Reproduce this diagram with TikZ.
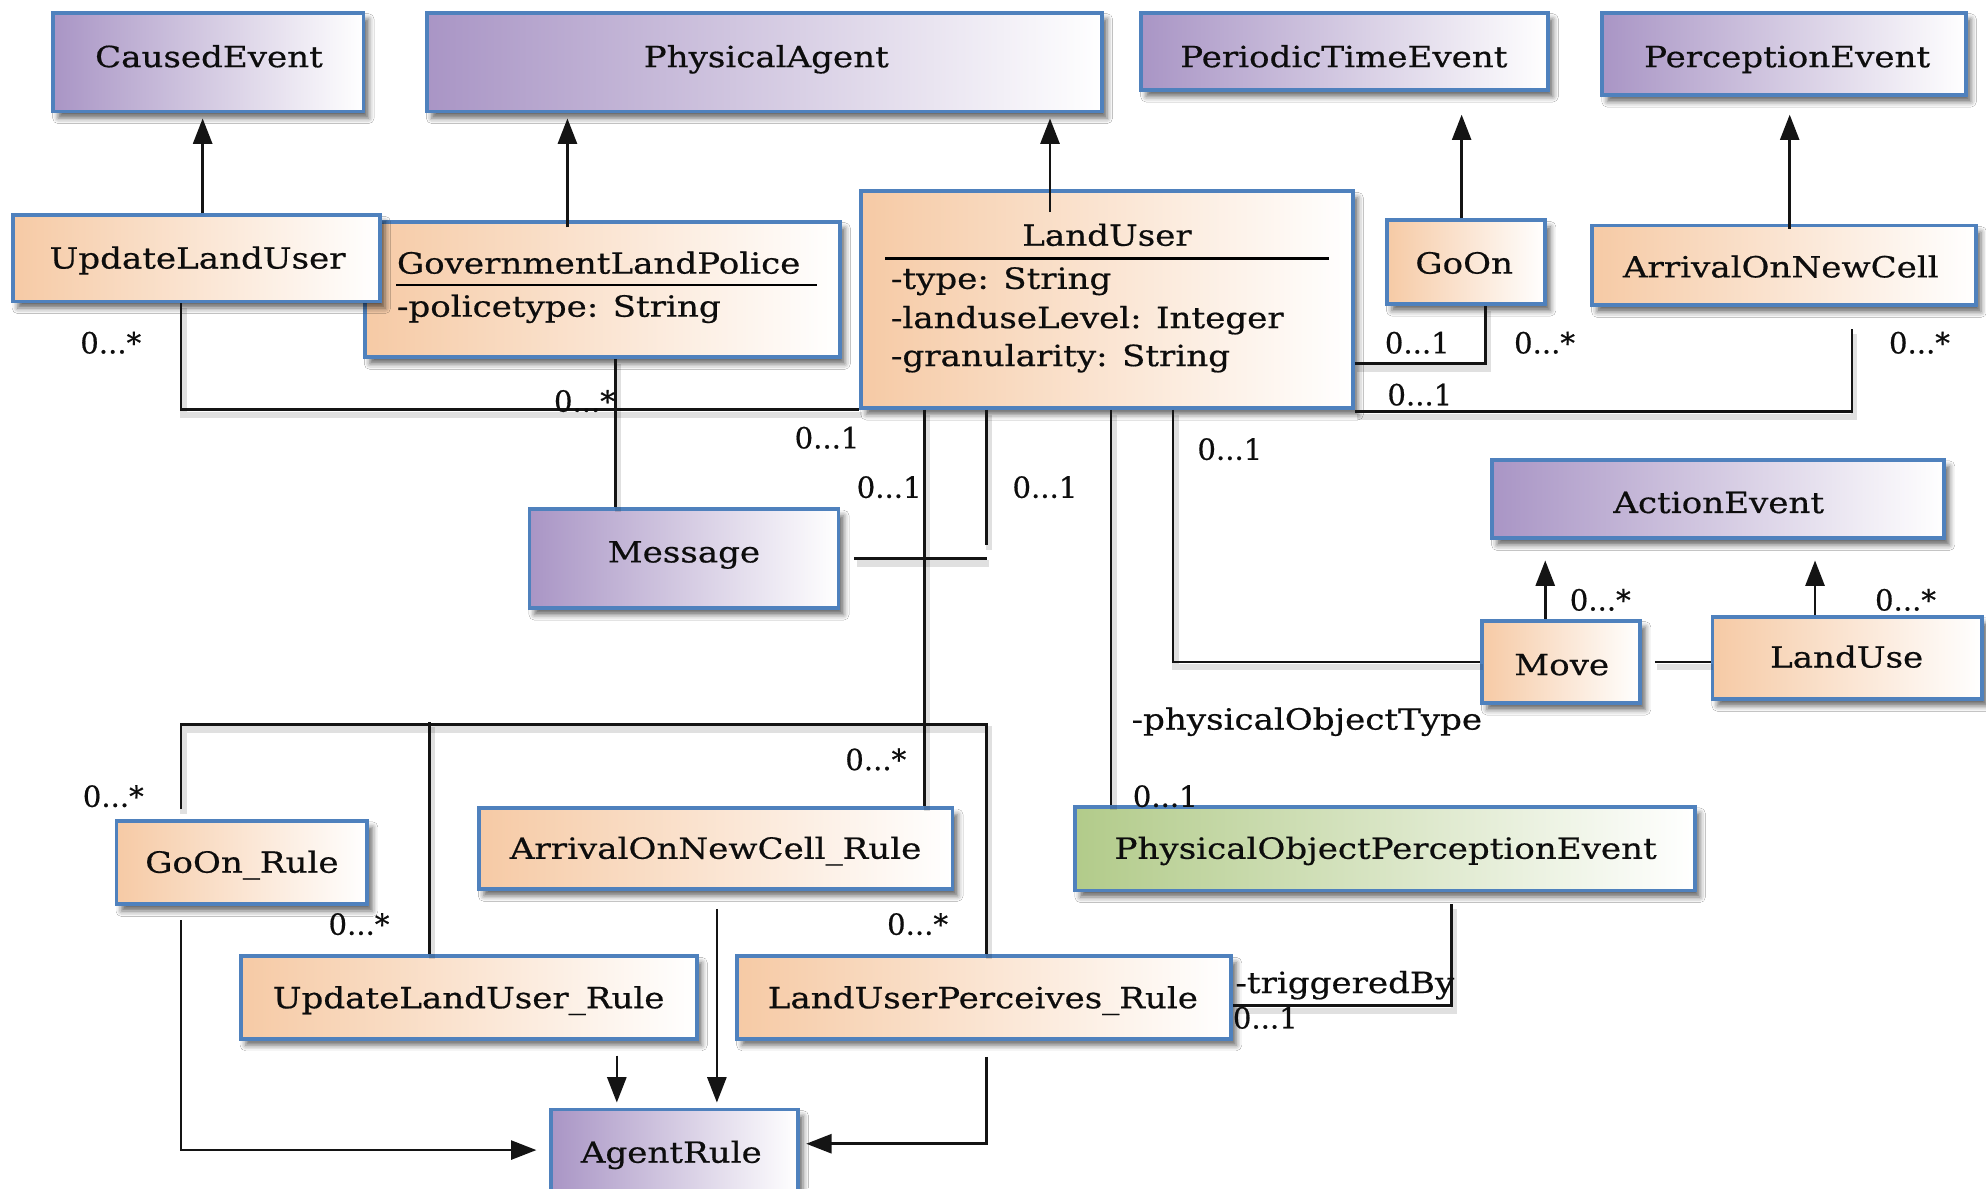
\documentclass[tikz,border=0pt]{standalone}
\usepackage{fontspec}
\setmainfont{DejaVu Serif}[FakeStretch=1.17, FakeBold=0.55]
\newfontfamily\multfont{DejaVu Serif}[FakeBold=0.55]
\usetikzlibrary{arrows.meta,shadows.blur,fit}
\definecolor{boxblue}{HTML}{4F81BD}
\definecolor{lilac}{HTML}{A995C5}
\definecolor{peach}{HTML}{F6CAA5}
\definecolor{sage}{HTML}{B2CB8A}
\definecolor{tealband}{HTML}{2AA89A}
\begin{document}
\begin{tikzpicture}[x=0.5pt,y=-0.5pt,
  every node/.style={font=\fontsize{11.5pt}{13pt}\selectfont, text=black!95},
  umlbox/.style={draw=boxblue, line width=1.5pt, inner sep=0pt,
    blur shadow={shadow xshift=2pt, shadow yshift=-2.6pt, shadow blur radius=2.2pt, shadow opacity=60}},
  classA/.style={umlbox, left color=lilac, middle color=lilac!62, right color=white},
  classB/.style={umlbox, left color=peach, middle color=peach!62, right color=white},
  classC/.style={umlbox, left color=sage, middle color=sage!62, right color=white},
  txt/.style={anchor=base, inner sep=0pt},
  ltxt/.style={anchor=base west, inner sep=0pt},
  mult/.style={anchor=base west, inner sep=0pt, font=\multfont\fontsize{11.5pt}{13pt}\selectfont},
  link/.style={draw=black!92, line width=1pt,
    preaction={draw=black, draw opacity=0.12, line width=2.5pt, transform canvas={xshift=1pt, yshift=-2pt}}},
  arr/.style={draw=black!92, line width=1pt, -{Triangle[length=10pt,width=7.5pt]}},
]
\useasboundingbox (0,0) rectangle (1568,938);
\fill[white] (0,0) rectangle (1568,938);
\shade[left color=white, middle color=tealband, right color=white] (225,0) rectangle (520,3);

% ---------- classes ----------
\node[classA, fit={(42,10)(287,88)}] (ce) {};
\node[classA, fit={(337,10)(870,88)}] (pa) {};
\node[classA, fit={(901,10)(1222,71)}] (pte) {};
\node[classA, fit={(1265,10)(1552,75)}] (pe) {};
\node[classB, fit={(288,175)(663,282)}] (glp) {};
\node[classB, fit={(10,170)(300,238)}] (ulu) {};
\node[classB, fit={(680,151)(1068,322)}] (lu) {};
\node[classB, fit={(1095,174)(1220,240)}] (goon) {};
\node[classB, fit={(1257,178)(1560,241)}] (aonc) {};
\node[classA, fit={(418,402)(662,480)}] (msg) {};
\node[classA, fit={(1178,363)(1535,425)}] (ae) {};
\node[classB, fit={(1170,490)(1295,555)}] (mv) {};
\node[classB, fit={(1352,487)(1565,552)}] (luse) {};
\node[classB, fit={(92,648)(290,714)}] (gor) {};
\node[classB, fit={(378,638)(752,702)}] (aoncr) {};
\node[classC, fit={(849,637)(1338,703)}] (pope) {};
\node[classB, fit={(190,755)(550,820)}] (ulur) {};
\node[classB, fit={(582,755)(972,820)}] (lupr) {};
\node[classA, fit={(435,876)(630,940)}] (ar) {};

% compartment separators
\draw[line width=1pt] (313,225) -- (645,225);
\draw[line width=1pt] (699,204) -- (1049,204);

% ---------- class names and attributes ----------
\node[txt] (ce-t) at (165,53) {CausedEvent};
\node[txt] (pa-t) at (605,53) {PhysicalAgent};
\node[txt] (pte-t) at (1061,53) {PeriodicTimeEvent};
\node[txt] (pe-t) at (1411,53) {PerceptionEvent};
\node[txt] (ulu-t) at (156,212) {UpdateLandUser};
\node[ltxt] (glp-t) at (313,216) {GovernmentLandPolice};
\node[ltxt] (glp-a) at (313,250) {-policetype: String};
\node[txt] (lu-t) at (874,194) {LandUser};
\node[ltxt] (lu-a1) at (703,228) {-type: String};
\node[ltxt] (lu-a2) at (703,259) {-landuseLevel: Integer};
\node[ltxt] (lu-a3) at (703,289) {-granularity: String};
\node[txt] (goon-t) at (1156,216) {GoOn};
\node[txt] (aonc-t) at (1406,219) {ArrivalOnNewCell};
\node[txt] (msg-t) at (540,444) {Message};
\node[txt] (ae-t) at (1357,405) {ActionEvent};
\node[txt] (mv-t) at (1233,533) {Move};
\node[txt] (luse-t) at (1458,527) {LandUse};
\node[txt] (gor-t) at (191,689) {GoOn\_Rule};
\node[txt] (aoncr-t) at (565,678) {ArrivalOnNewCell\_Rule};
\node[txt] (pope-t) at (1094,678) {PhysicalObjectPerceptionEvent};
\node[txt] (ulur-t) at (370,796) {UpdateLandUser\_Rule};
\node[txt] (lupr-t) at (776,796) {LandUserPerceives\_Rule};
\node[txt] (ar-t) at (530,918) {AgentRule};

% ---------- routing columns and bends ----------
\coordinate (c160) at (160,0);
\coordinate (c448) at (448,0);
\coordinate (c829) at (829,0);
\coordinate (c1154) at (1154,0);
\coordinate (c1413) at (1413,0);
\coordinate (c143) at (143,325);
\coordinate (c486) at (486,0);
\coordinate (c730) at (730,0);
\coordinate (c877) at (877,0);
\coordinate (c926) at (926,0);
\coordinate (c1220) at (1220,0);
\coordinate (c1433) at (1433,0);
\coordinate (c339) at (339,0);
\coordinate (c487) at (487,0);
\coordinate (c566) at (566,0);
\coordinate (mA) at (779,430);
\coordinate (mB) at (779,442);
\coordinate (gA) at (1173,287);
\coordinate (gB) at (1462,325);
\coordinate (rL) at (143,572);
\coordinate (rR) at (779,572);
\coordinate (tB) at (1146,794);

% ---------- generalisations ----------
\draw[arr, shorten >=2pt] (ulu.north -| c160) -- (ce.south -| c160);
\draw[arr, shorten >=2pt, shorten <=-3pt] (glp.north -| c448) -- (pa.south -| c448);
\draw[arr, shorten >=2pt] ([yshift=-9pt]lu.north -| c829) -- (pa.south -| c829);
\draw[arr, shorten >=9pt] (goon.north -| c1154) -- (pte.south -| c1154);
\draw[arr, shorten >=7pt] ([yshift=-2pt]aonc.north -| c1413) -- (pe.south -| c1413);
\draw[arr, shorten >=8pt] (mv.north -| c1220) -- (ae.south -| c1220);
\draw[arr, shorten >=8pt] (luse.north -| c1433) -- (ae.south -| c1433);

% ---------- associations ----------
\draw[link] (ulu.south -| c143) |- (lu.south west);
\draw[link] (glp.south -| c486) -- (msg.north -| c486);
\draw[link] (lu.south -| mA) -- (mA);
\draw[link] ([xshift=5.5pt]msg.east) -- (msg.east -| mB);
\draw[link] (lu.south -| c730) -- (aoncr.north -| c730);
\draw[link] (lu.south -| c877) -- (pope.north -| c877);
\draw[link] (lu.south -| c926) |- (mv.west);
\draw[link] ([xshift=5pt]mv.east) -- (mv.east -| luse.west);
\draw[link] (lu.east |- gA) -| (goon.south -| gA);
\draw[link] (lu.east |- gB) -| ([yshift=-8.5pt]aonc.south -| gB);
\draw[link] ([yshift=4pt]gor.north -| rL) -- (rL) -- (rR) -- (lupr.north -| rR);
\draw[link] (ulur.north -| c339) -- ([yshift=1pt]c339 |- rL);
\draw[link] (lupr.east |- tB) -| ([yshift=-4.5pt]pope.south -| tB);

% ---------- rule dependencies ----------
\draw[arr, shorten >=5pt] ([yshift=-5.5pt]gor.south -| rL) |- (ar.west);
\draw[arr, shorten >=2pt] ([yshift=-6pt]ulur.south -| c487) -- (ar.north -| c487);
\draw[arr, shorten >=2pt] ([yshift=-7pt]aoncr.south -| c566) -- (ar.north -| c566);
\draw[arr, shorten >=2.5pt] ([yshift=-6.5pt]lupr.south -| rR) |- ([yshift=2.5pt]ar.east);

% ---------- multiplicities and role names ----------
\node[mult] (m1) at (63,279) {0...*};
\node[mult] (m2) at (437,325) {0...*};
\node[mult] (m3) at (627,354) {0...1};
\node[mult] (m4) at (676,393) {0...1};
\node[mult] (m5) at (799,393) {0...1};
\node[mult] (m6) at (945,363) {0...1};
\node[mult] (m7) at (1093,279) {0...1};
\node[mult] (m8) at (1195,279) {0...*};
\node[mult] (m9) at (1095,320) {0...1};
\node[mult] (m10) at (1491,279) {0...*};
\node[mult] (m11) at (1239,482) {0...*};
\node[mult] (m12) at (1480,482) {0...*};
\node[mult] (m13) at (667,608) {0...*};
\node[mult] (m14) at (894,637) {0...1};
\node[mult] (m15) at (65,637) {0...*};
\node[mult] (m16) at (259,738) {0...*};
\node[mult] (m17) at (700,738) {0...*};
\node[ltxt] (m18) at (893,576) {-physicalObjectType};
\node[ltxt] (m19) at (975,784) {-triggeredBy};
\node[mult] (m20) at (973,812) {0...1};
\end{tikzpicture}
\end{document}
